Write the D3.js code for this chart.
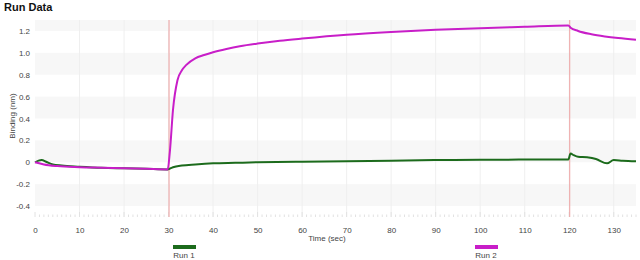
<!DOCTYPE html>
<html>
<head>
<meta charset="utf-8">
<script src="https://cdn.jsdelivr.net/npm/d3@7"></script>
<style>
  body { margin: 0; background: #fff; font-family: "Liberation Sans", Arial, sans-serif; }
  .tick text { fill: #444; font-size: 8px; }
</style>
</head>
<body>
<div id="chart"></div>
<script>
// data
const run1Time = [0, 0.8, 1.5, 2.5, 4, 6, 10, 15, 20, 25, 29.8, 31, 33, 36, 40, 45, 50, 60, 70, 80, 90, 100, 110, 119.8, 120.3, 121, 122, 124, 126, 128.5, 130, 132, 135];
const run1Vals = [0, 0.015, 0.02, 0.005, -0.02, -0.03, -0.04, -0.05, -0.055, -0.06, -0.065, -0.045, -0.03, -0.02, -0.01, -0.005, 0, 0.005, 0.01, 0.015, 0.02, 0.022, 0.025, 0.025, 0.08, 0.065, 0.05, 0.045, 0.03, -0.01, 0.02, 0.015, 0.01];

const run2Time = [0, 2, 5, 10, 15, 20, 25, 29.8, 30.3, 31, 32, 33, 34, 36, 38, 40, 43, 46, 50, 55, 60, 70, 80, 90, 100, 110, 119.8, 120.3, 122, 125, 128, 131, 135];
const run2Vals = [0, -0.02, -0.035, -0.045, -0.05, -0.055, -0.06, -0.065, 0.1, 0.48, 0.75, 0.84, 0.89, 0.95, 0.98, 1.005, 1.035, 1.06, 1.085, 1.11, 1.13, 1.165, 1.19, 1.21, 1.225, 1.238, 1.25, 1.23, 1.2, 1.17, 1.15, 1.135, 1.12];

const seriesNames = ["Run 1", "Run 2"];
const seriesColors = ["#1c6b1c", "#c81ec8"];
const markerTimes = [30, 120];
const yTicks = [-0.4, -0.2, 0, 0.2, 0.4, 0.6, 0.8, 1.0, 1.2];
const xTicks = [0, 10, 20, 30, 40, 50, 60, 70, 80, 90, 100, 110, 120, 130];

const svgWidth = 640;
const svgHeight = 260;
const margin = { top: 20, right: 4, bottom: 43, left: 35 };
const width = 601;
const height = svgHeight - margin.top - margin.bottom;

const svg = d3.select("#chart")
  .append("svg")
  .attr("width", svgWidth)
  .attr("height", svgHeight);

svg.append("text")
  .attr("x", 4)
  .attr("y", 11)
  .attr("font-size", "11px")
  .attr("font-weight", "bold")
  .attr("fill", "#111")
  .text("Run Data");

const chartGroup = svg.append("g")
  .attr("transform", `translate(${margin.left}, ${margin.top})`);

const x = d3.scaleLinear().domain([0, 135]).range([0, width]);
const y = d3.scaleLinear().domain([-0.5, 1.3]).range([height, 0]);

// alternating bands
const bands = [[1.2, 1.3], [0.8, 1.0], [0.4, 0.6], [0, 0.2], [-0.4, -0.2]];
chartGroup.selectAll("rect.band")
  .data(bands)
  .enter()
  .append("rect")
  .attr("class", "band")
  .attr("x", 0)
  .attr("width", width)
  .attr("y", d => y(d[1]))
  .attr("height", d => y(d[0]) - y(d[1]))
  .attr("fill", "#f7f7f7");

// vertical grid
chartGroup.selectAll("line.vgrid")
  .data(xTicks.slice(1))
  .enter()
  .append("line")
  .attr("x1", d => x(d)).attr("x2", d => x(d))
  .attr("y1", 0).attr("y2", height)
  .attr("stroke", "#efefef")
  .attr("stroke-width", 1);

// minor ticks along bottom
chartGroup.selectAll("line.minor")
  .data(d3.range(0, 136, 1))
  .enter()
  .append("line")
  .attr("x1", d => x(d)).attr("x2", d => x(d))
  .attr("y1", height).attr("y2", d => height - (d % 10 === 0 ? 5 : 2.5))
  .attr("stroke", "#e2e2e2");

// bottom axis (labels only)
const bottomAxis = d3.axisBottom(x).tickValues(xTicks).tickSize(0).tickPadding(10).tickFormat(d3.format("d"));
chartGroup.append("g")
  .attr("transform", `translate(0, ${height})`)
  .call(bottomAxis)
  .call(g => g.select(".domain").remove());

const leftAxis = d3.axisLeft(y).tickValues(yTicks).tickSize(0).tickPadding(5)
  .tickFormat(d => d === 0 ? "0" : d.toFixed(1));
chartGroup.append("g")
  .call(leftAxis)
  .call(g => g.select(".domain").remove());

// event markers
chartGroup.selectAll("line.marker")
  .data(markerTimes)
  .enter()
  .append("line")
  .attr("x1", d => x(d) + 0.5).attr("x2", d => x(d) + 0.5)
  .attr("y1", 0).attr("y2", height)
  .attr("stroke", "#eea0a0")
  .attr("stroke-width", 1);

const series = [
  run1Time.map((t, i) => ({ t: t, v: run1Vals[i] })),
  run2Time.map((t, i) => ({ t: t, v: run2Vals[i] }))
];

const line = d3.line()
  .x(d => x(d.t))
  .y(d => y(d.v))
  .curve(d3.curveMonotoneX);

chartGroup.selectAll("path.run")
  .data(series)
  .enter()
  .append("path")
  .attr("class", "run")
  .attr("d", line)
  .attr("fill", "none")
  .attr("stroke", (d, i) => seriesColors[i])
  .attr("stroke-width", 2)
  .attr("stroke-linejoin", "round");

// axis labels
svg.append("text")
  .attr("transform", "rotate(-90)")
  .attr("x", -116)
  .attr("y", 15)
  .attr("text-anchor", "middle")
  .attr("font-size", "8px")
  .attr("fill", "#444")
  .text("Binding (nm)");

svg.append("text")
  .attr("x", 327)
  .attr("y", 241)
  .attr("text-anchor", "middle")
  .attr("font-size", "8px")
  .attr("fill", "#444")
  .text("Time (sec)");

// legend
const legendX = [184, 486];
const legend = svg.selectAll("g.legend")
  .data(seriesNames)
  .enter()
  .append("g")
  .attr("transform", (d, i) => `translate(${legendX[i]}, 0)`);

legend.append("line")
  .attr("x1", -11).attr("x2", 12)
  .attr("y1", 247).attr("y2", 247)
  .attr("stroke", (d, i) => seriesColors[i])
  .attr("stroke-width", 4);

legend.append("text")
  .attr("y", 258)
  .attr("text-anchor", "middle")
  .attr("font-size", "8px")
  .attr("fill", "#444")
  .text(d => d);
</script>
</body>
</html>
